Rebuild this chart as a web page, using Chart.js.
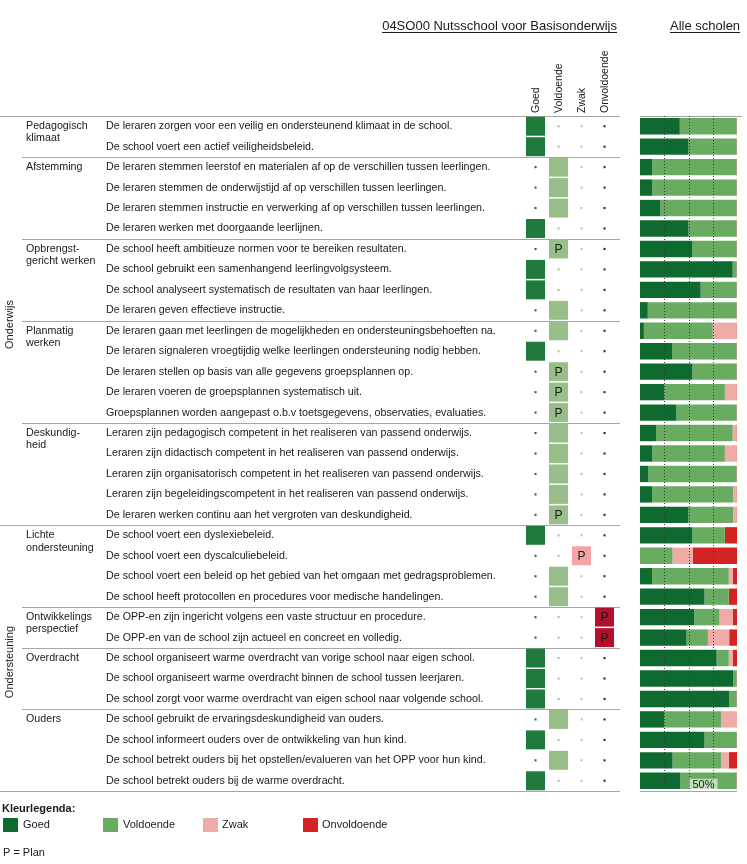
<!DOCTYPE html>
<html>
<head>
<meta charset="utf-8">
<script src="https://cdn.jsdelivr.net/npm/chart.js@4"></script>
<style>
  body { margin: 0; background: #fff; }
  #wrap { position: relative; width: 747px; height: 864px; }
  #main { position: absolute; left: 0; top: 0; }
  #matrix { position: absolute; left: 524px; top: 0; }
</style>
</head>
<body>
<div id="wrap">
  <canvas id="main" width="747" height="864"></canvas>
  <canvas id="matrix" width="92" height="791"></canvas>
</div>
<script>
/* ---------------- data ---------------- */
const levels = ['Goed', 'Voldoende', 'Zwak', 'Onvoldoende'];

const items = [
  'De leraren zorgen voor een veilig en ondersteunend klimaat in de school.',
  'De school voert een actief veiligheidsbeleid.',
  'De leraren stemmen leerstof en materialen af op de verschillen tussen leerlingen.',
  'De leraren stemmen de onderwijstijd af op verschillen tussen leerlingen.',
  'De leraren stemmen instructie en verwerking af op verschillen tussen leerlingen.',
  'De leraren werken met doorgaande leerlijnen.',
  'De school heeft ambitieuze normen voor te bereiken resultaten.',
  'De school gebruikt een samenhangend leerlingvolgsysteem.',
  'De school analyseert systematisch de resultaten van haar leerlingen.',
  'De leraren geven effectieve instructie.',
  'De leraren gaan met leerlingen de mogelijkheden en ondersteuningsbehoeften na.',
  'De leraren signaleren vroegtijdig welke leerlingen ondersteuning nodig hebben.',
  'De leraren stellen op basis van alle gegevens groepsplannen op.',
  'De leraren voeren de groepsplannen systematisch uit.',
  'Groepsplannen worden aangepast o.b.v toetsgegevens, observaties, evaluaties.',
  'Leraren zijn pedagogisch competent in het realiseren van passend onderwijs.',
  'Leraren zijn didactisch competent in het realiseren van passend onderwijs.',
  'Leraren zijn organisatorisch competent in het realiseren van passend onderwijs.',
  'Leraren zijn begeleidingscompetent in het realiseren van passend onderwijs.',
  'De leraren werken continu aan het vergroten van deskundigheid.',
  'De school voert een dyslexiebeleid.',
  'De school voert een dyscalculiebeleid.',
  'De school voert een beleid op het gebied van het omgaan met gedragsproblemen.',
  'De school heeft protocollen en procedures voor medische handelingen.',
  'De OPP-en zijn ingericht volgens een vaste structuur en procedure.',
  'De OPP-en van de school zijn actueel en concreet en volledig.',
  'De school organiseert warme overdracht van vorige school naar eigen school.',
  'De school organiseert warme overdracht binnen de school tussen leerjaren.',
  'De school zorgt voor warme overdracht van eigen school naar volgende school.',
  'De school gebruikt de ervaringsdeskundigheid van ouders.',
  'De school informeert ouders over de ontwikkeling van hun kind.',
  'De school betrekt ouders bij het opstellen/evalueren van het OPP voor hun kind.',
  'De school betrekt ouders bij de warme overdracht.'
];

const subgroups = ['Pedagogisch\nklimaat', 'Afstemming', 'Opbrengst-\ngericht werken', 'Planmatig\nwerken',
  'Deskundig-\nheid', 'Lichte\nondersteuning', 'Ontwikkelings\nperspectief', 'Overdracht', 'Ouders'];
const subgroupStart = [0, 2, 6, 10, 15, 20, 24, 26, 29];

const domains = ['Onderwijs', 'Ondersteuning'];
const domainStart = [0, 20];

// 0 = Goed, 1 = Voldoende, 2 = Zwak, 3 = Onvoldoende
const schoolScore = [0, 0, 1, 1, 1, 0, 1, 0, 0, 1, 1, 0, 1, 1, 1, 1, 1, 1, 1, 1, 0, 2, 1, 1, 3, 3, 0, 0, 0, 1, 0, 1, 0];
const planRows = [6, 12, 13, 14, 19, 21, 24, 25];

// Alle scholen (percentages)
const pctGoed = [41, 50, 12.5, 12.5, 21, 50, 54, 95.5, 62.5, 8, 4, 33, 54, 25, 37.5, 16.5, 12.5, 8.5, 12.5, 50,
  54, 0, 12.5, 66.5, 56, 48, 79, 96, 92, 25, 66.5, 33.5, 41.5];
const pctVoldoende = [58.5, 49.5, 87, 87, 78.5, 49.5, 45.5, 4, 37, 91.5, 71, 66.5, 45.5, 62.5, 62, 79, 75, 91, 83.5, 46,
  33.5, 33.5, 79, 25, 26, 22, 12.5, 3.5, 7.5, 58.5, 33, 50, 58];
const pctZwak = [0, 0, 0, 0, 0, 0, 0, 0, 0, 0, 24.5, 0, 0, 12, 0, 4, 12, 0, 3.5, 3.5,
  0, 21, 4, 0, 13.5, 22, 4, 0, 0, 16.5, 0, 8, 0];
const pctOnvoldoende = [0.5, 0.5, 0.5, 0.5, 0.5, 0.5, 0.5, 0.5, 0.5, 0.5, 0.5, 0.5, 0.5, 0.5, 0.5, 0.5, 0.5, 0.5, 0.5, 0.5,
  12.5, 45.5, 4.5, 8.5, 4.5, 8, 4.5, 0.5, 0.5, 0, 0.5, 8.5, 0.5];

const refLines = [25, 50, 75];
const refLabel = '50%';

/* ---------------- styles ---------------- */
const FONT = '"Liberation Sans", Arial, sans-serif';
const barColors = ['#0e6a2f', '#6aab62', '#efaca7', '#d42323'];
const squareColors = ['#1f7a3b', '#98bf89', '#f4a4a4', '#b3102b'];
const dotColors = ['#2e6e46', '#a9c5a2', '#dcb4c4', '#5c1a35'];
const LINE = '#a6a6a6';
const TEXT = '#1a1a1a';

/* ---------------- table text + lines (main canvas) ---------------- */
const tablePlugin = {
  id: 'table',
  beforeDatasetsDraw(chart) {
    const { ctx, scales: { x, y } } = chart;
    const rowH = y.getPixelForValue(1) - y.getPixelForValue(0);
    const edge = i => Math.round(y.getPixelForValue(0) - rowH / 2 + i * rowH) + 0.5;
    ctx.save();
    ctx.strokeStyle = LINE;
    ctx.lineWidth = 1;
    subgroupStart.concat([items.length]).forEach(i => {
      const full = i === items.length || domainStart.includes(i);
      ctx.beginPath();
      ctx.moveTo(full ? 0 : 22, edge(i));
      ctx.lineTo(620, edge(i));
      ctx.stroke();
    });
    ctx.beginPath();
    ctx.moveTo(x.left, edge(0)); ctx.lineTo(742, edge(0));
    ctx.moveTo(x.left, edge(items.length)); ctx.lineTo(x.right, edge(items.length));
    ctx.stroke();
    ctx.restore();
  },
  afterDatasetsDraw(chart) {
    const { ctx, scales: { x, y } } = chart;
    const rowH = y.getPixelForValue(1) - y.getPixelForValue(0);
    const top = y.getPixelForValue(0) - rowH / 2;
    const bottom = top + items.length * rowH;
    ctx.save();
    ctx.strokeStyle = '#3a3a3a';
    ctx.lineWidth = 1;
    ctx.setLineDash([1, 2]);
    refLines.forEach(v => {
      const px = Math.round(x.getPixelForValue(v)) + 0.5;
      ctx.beginPath(); ctx.moveTo(px, top); ctx.lineTo(px, bottom); ctx.stroke();
    });
    ctx.setLineDash([]);
    // 50% label on the last row
    ctx.font = '11px ' + FONT;
    const lx = x.getPixelForValue(50) + 1;
    const ly = y.getPixelForValue(items.length - 1) + 3;
    const w = ctx.measureText(refLabel).width + 6;
    ctx.fillStyle = 'rgba(255,255,255,0.6)';
    ctx.fillRect(lx, ly - 5, w, 11);
    ctx.fillStyle = TEXT;
    ctx.textBaseline = 'middle';
    ctx.fillText(refLabel, lx + 3, ly + 1);
    ctx.restore();
  },
  afterDraw(chart) {
    const { ctx, scales: { y } } = chart;
    const rowH = y.getPixelForValue(1) - y.getPixelForValue(0);
    const top = y.getPixelForValue(0) - rowH / 2;
    ctx.save();
    ctx.fillStyle = TEXT;
    ctx.textBaseline = 'middle';
    ctx.font = '10.7px ' + FONT;
    items.forEach((t, i) => ctx.fillText(t, 106, y.getPixelForValue(i)));
    subgroups.forEach((s, k) => {
      s.split('\n').forEach((line, j) => ctx.fillText(line, 26, y.getPixelForValue(subgroupStart[k]) + j * 12.3));
    });
    // domain labels, vertical
    ctx.font = '11px ' + FONT;
    domains.forEach((d, k) => {
      const a = top + domainStart[k] * rowH;
      const b = top + (k + 1 < domainStart.length ? domainStart[k + 1] : items.length) * rowH;
      ctx.save();
      ctx.translate(10, (a + b) / 2 + 4);
      ctx.rotate(-Math.PI / 2);
      ctx.textAlign = 'center';
      ctx.fillText(d, 0, 0);
      ctx.restore();
    });
    // header titles
    ctx.font = '13px ' + FONT;
    ctx.textBaseline = 'alphabetic';
    const underline = (t, x0, yb) => {
      const w = ctx.measureText(t).width;
      ctx.fillText(t, x0, yb);
      ctx.fillRect(x0, yb + 2, w, 1);
    };
    const title = '04SO00 Nutsschool voor Basisonderwijs';
    underline(title, 617 - ctx.measureText(title).width, 30);
    underline('Alle scholen', 670, 30);
    // legend
    ctx.font = 'bold 11px ' + FONT;
    ctx.textBaseline = 'middle';
    ctx.fillText('Kleurlegenda:', 2, 809);
    ctx.font = '11px ' + FONT;
    levels.forEach((l, k) => {
      ctx.fillStyle = barColors[k];
      ctx.fillRect(3 + k * 100, 818, 15, 14);
      ctx.fillStyle = TEXT;
      ctx.fillText(l, 23 + k * 100 - (k > 1 ? 1 : 0), 825);
    });
    ctx.fillText('P = Plan', 3, 853);
    ctx.restore();
  }
};

new Chart(document.getElementById('main'), {
  type: 'bar',
  data: {
    labels: items,
    datasets: [pctGoed, pctVoldoende, pctZwak, pctOnvoldoende].map((d, k) => ({
      label: levels[k],
      data: d,
      backgroundColor: barColors[k],
      borderWidth: 0,
      barPercentage: 0.8,
      categoryPercentage: 1
    }))
  },
  options: {
    indexAxis: 'y',
    responsive: false,
    animation: false,
    events: [],
    layout: { autoPadding: false, padding: { left: 640, right: 10, top: 116, bottom: 73 } },
    plugins: { legend: { display: false }, tooltip: { enabled: false } },
    scales: {
      x: { display: false, stacked: true, min: 0, max: 100 },
      y: { display: false, stacked: true }
    }
  },
  plugins: [tablePlugin]
});

/* ---------------- school matrix (own canvas) ---------------- */
const matrixPlugin = {
  id: 'matrixText',
  afterDatasetsDraw(chart) {
    const { ctx, scales: { x, y } } = chart;
    ctx.save();
    ctx.fillStyle = TEXT;
    ctx.font = '12px ' + FONT;
    ctx.textAlign = 'center';
    ctx.textBaseline = 'middle';
    planRows.forEach(i => ctx.fillText('P', x.getPixelForValue(schoolScore[i]), y.getPixelForValue(i) + 1));
    // rotated column headers
    ctx.font = '10.5px ' + FONT;
    ctx.textAlign = 'left';
    levels.forEach((l, c) => {
      ctx.save();
      ctx.translate(x.getPixelForValue(c) + 1, y.top - 3);
      ctx.rotate(-Math.PI / 2);
      ctx.fillText(l, 0, 0);
      ctx.restore();
    });
    ctx.restore();
  }
};

const matrixSets = [];
levels.forEach((l, c) => {
  const hit = [], miss = [];
  schoolScore.forEach((s, i) => (s === c ? hit : miss).push({ x: c, y: i }));
  matrixSets.push({ data: hit, pointStyle: 'rect', pointRadius: 13.4, backgroundColor: squareColors[c], borderWidth: 0 });
  matrixSets.push({ data: miss, pointStyle: 'rect', pointRadius: 1.5, backgroundColor: dotColors[c], borderWidth: 0 });
});

new Chart(document.getElementById('matrix'), {
  type: 'scatter',
  data: { datasets: matrixSets },
  options: {
    responsive: false,
    animation: false,
    events: [],
    layout: { autoPadding: false, padding: { top: 116, left: 0, right: 0, bottom: 0 } },
    plugins: { legend: { display: false }, tooltip: { enabled: false } },
    scales: {
      x: { type: 'linear', display: false, min: -0.5, max: 3.5 },
      y: { type: 'linear', display: false, min: -0.5, max: items.length - 0.5, reverse: true }
    }
  },
  plugins: [matrixPlugin]
});
</script>
</body>
</html>
